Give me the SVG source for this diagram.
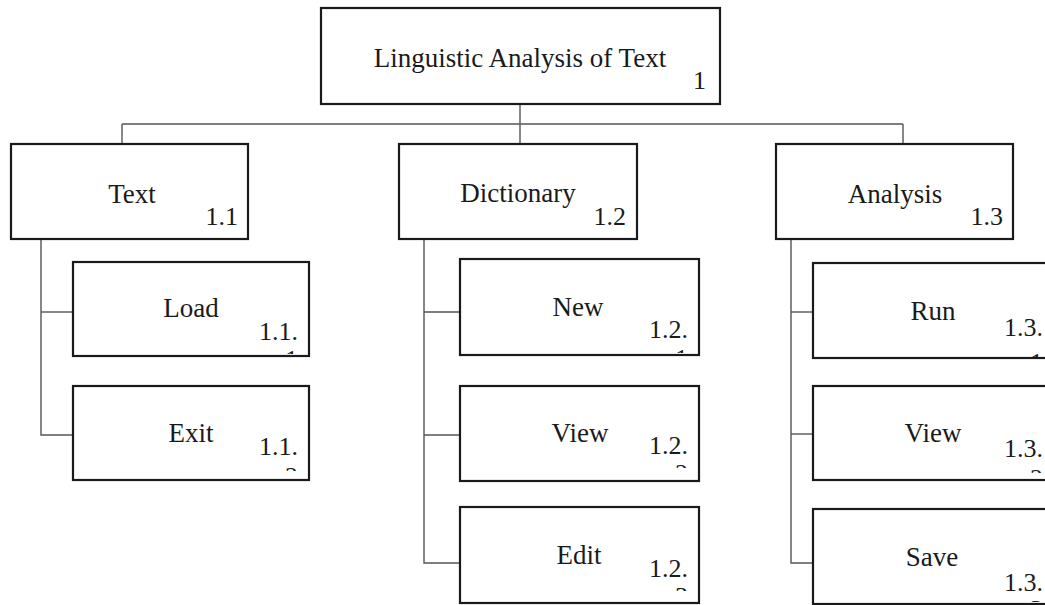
<svg xmlns="http://www.w3.org/2000/svg" width="1045" height="605" viewBox="0 0 1045 605">
<style>
.box{fill:#fff;stroke:#1a1a1a;stroke-width:2.2}
.conn{fill:none;stroke:#555;stroke-width:1.4}
.lbl{font-family:"Liberation Serif","Times New Roman",serif;font-size:27px;fill:#1a1a1a;text-anchor:middle}
.num{font-family:"Liberation Serif","Times New Roman",serif;font-size:26px;fill:#1a1a1a;text-anchor:end}
</style>
<defs>
<clipPath id="c111"><rect x="74" y="263" width="234" height="91"/></clipPath>
<clipPath id="c112"><rect x="74" y="387" width="234" height="84"/></clipPath>
<clipPath id="c121"><rect x="461" y="260" width="237" height="93"/></clipPath>
<clipPath id="c122"><rect x="461" y="387" width="237" height="81"/></clipPath>
<clipPath id="c123"><rect x="461" y="508" width="237" height="83"/></clipPath>
<clipPath id="c131"><rect x="814" y="264" width="240" height="93"/></clipPath>
<clipPath id="c132"><rect x="814" y="387" width="240" height="86"/></clipPath>
<clipPath id="c133"><rect x="814" y="510" width="240" height="92"/></clipPath>
</defs>
<g id="connectors">
<line class="conn" x1="520" y1="104" x2="520" y2="144"/>
<line class="conn" x1="122" y1="124" x2="903" y2="124"/>
<line class="conn" x1="122" y1="124" x2="122" y2="144"/>
<line class="conn" x1="903" y1="124" x2="903" y2="144"/>
<polyline class="conn" points="41,239 41,435 73,435"/>
<line class="conn" x1="41" y1="312" x2="73" y2="312"/>
<polyline class="conn" points="424,239 424,563 460,563"/>
<line class="conn" x1="424" y1="312" x2="460" y2="312"/>
<line class="conn" x1="424" y1="435" x2="460" y2="435"/>
<polyline class="conn" points="791,239 791,563 813,563"/>
<line class="conn" x1="791" y1="312" x2="813" y2="312"/>
<line class="conn" x1="791" y1="434" x2="813" y2="434"/>
</g>
<g id="n1">
<rect class="box" x="321" y="8" width="399" height="96"/>
<text class="lbl" x="520" y="67">Linguistic Analysis of Text</text>
<text class="num" x="706" y="89">1</text>
</g>
<g id="n1_1">
<rect class="box" x="11" y="144" width="237" height="95"/>
<text class="lbl" x="132" y="203">Text</text>
<text class="num" x="238" y="225">1.1</text>
</g>
<g id="n1_2">
<rect class="box" x="399" y="144" width="238" height="95"/>
<text class="lbl" x="518" y="202">Dictionary</text>
<text class="num" x="626" y="225">1.2</text>
</g>
<g id="n1_3">
<rect class="box" x="776" y="144" width="237" height="95"/>
<text class="lbl" x="895" y="203">Analysis</text>
<text class="num" x="1003" y="225">1.3</text>
</g>
<g id="n1_1_1">
<rect class="box" x="73" y="262" width="236" height="94"/>
<text class="lbl" x="191" y="317">Load</text>
<g clip-path="url(#c111)"><text class="num" x="298" y="340">1.1.</text><text class="num" x="298" y="368">1</text></g>
</g>
<g id="n1_1_2">
<rect class="box" x="73" y="386" width="236" height="94"/>
<text class="lbl" x="191" y="442">Exit</text>
<g clip-path="url(#c112)"><text class="num" x="298" y="455">1.1.</text><text class="num" x="298" y="485">2</text></g>
</g>
<g id="n1_2_1">
<rect class="box" x="460" y="259" width="239" height="96"/>
<text class="lbl" x="578" y="316">New</text>
<g clip-path="url(#c121)"><text class="num" x="688" y="338">1.2.</text><text class="num" x="688" y="367">1</text></g>
</g>
<g id="n1_2_2">
<rect class="box" x="460" y="386" width="239" height="95"/>
<text class="lbl" x="580" y="442">View</text>
<g clip-path="url(#c122)"><text class="num" x="688" y="454">1.2.</text><text class="num" x="688" y="482">2</text></g>
</g>
<g id="n1_2_3">
<rect class="box" x="460" y="507" width="239" height="96"/>
<text class="lbl" x="579" y="564">Edit</text>
<g clip-path="url(#c123)"><text class="num" x="688" y="577">1.2.</text><text class="num" x="688" y="605">3</text></g>
</g>
<g id="n1_3_1">
<rect class="box" x="813" y="263" width="240" height="95"/>
<text class="lbl" x="933" y="320">Run</text>
<g clip-path="url(#c131)"><text class="num" x="1043" y="336">1.3.</text><text class="num" x="1043" y="371">1</text></g>
</g>
<g id="n1_3_2">
<rect class="box" x="813" y="386" width="240" height="94"/>
<text class="lbl" x="933" y="442">View</text>
<g clip-path="url(#c132)"><text class="num" x="1043" y="457">1.3.</text><text class="num" x="1043" y="487">2</text></g>
</g>
<g id="n1_3_3">
<rect class="box" x="813" y="509" width="240" height="95"/>
<text class="lbl" x="932" y="566">Save</text>
<g clip-path="url(#c133)"><text class="num" x="1043" y="591">1.3.</text><text class="num" x="1043" y="618">3</text></g>
</g>
</svg>
